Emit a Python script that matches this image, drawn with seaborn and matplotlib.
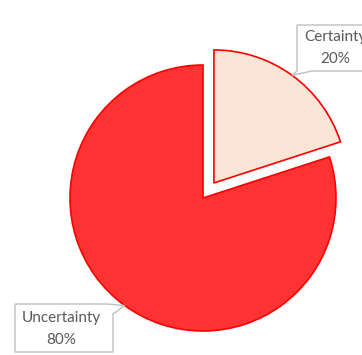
import numpy as np
import matplotlib
matplotlib.use("Agg")
import matplotlib.pyplot as plt
import seaborn as sns
from matplotlib.patches import Polygon

# Pie data
labels = ["Certainty", "Uncertainty"]
shares = [20, 80]
colors = ["#FBE5D6", "#FF3333"]
explode = [0.14, 0.0]

sns.set_theme(style="white")
plt.rcParams["font.family"] = ["Lato", "DejaVu Sans"]

W, H = 362, 355
CX, CY, R = 203, 198, 133  # pie centre and radius in pixels

fig = plt.figure(figsize=(W / 100, H / 100), dpi=100)
ax = fig.add_axes([0, 0, 1, 1])
wedges, _ = ax.pie(
    shares, colors=colors, explode=explode, startangle=90,
    counterclock=False, radius=1.0,
    wedgeprops=dict(edgecolor="#FF0000", linewidth=1.2),
)
ax.set_xlim(-CX / R, (W - CX) / R)
ax.set_ylim(-(H - CY) / R, CY / R)
ax.set_aspect("auto")
ax.axis("off")


def px(x, y):
    """Pixel (from top-left) to figure fraction."""
    return (x / W, 1 - y / H)


def rim_tip(w):
    """Point on a wedge's outer rim at its middle angle, in pixels."""
    ang = np.deg2rad((w.theta1 + w.theta2) / 2)
    cx, cy = w.center
    xd, yd = cx + w.r * np.cos(ang), cy + w.r * np.sin(ang)
    disp = ax.transData.transform((xd, yd))
    return disp[0], H - disp[1]


def callout(points, text_xy, text):
    poly = Polygon([px(*p) for p in points], closed=True, transform=fig.transFigure,
                   facecolor="white", edgecolor="#BFBFBF", linewidth=1.0, zorder=5)
    fig.add_artist(poly)
    fig.text(*px(*text_xy), text, ha="center", va="center", color="#595959",
             fontsize=11, linespacing=1.65, zorder=6)


# Certainty callout (box to the upper right)
tip_c = rim_tip(wedges[0])
callout([(297, 25), (375, 25), (375, 71), (312, 71), tip_c, (297, 71)],
        (335, 48), f"{labels[0]}\n{shares[0]}%")

# Uncertainty callout (box to the lower left)
tip_u = rim_tip(wedges[1])
callout([(15, 304), (107, 304), tip_u, (113, 314), (113, 352), (15, 352)],
        (61, 329), f"{labels[1]}\n{shares[1]}%")

fig.savefig("out.png", dpi=100, facecolor="white")
